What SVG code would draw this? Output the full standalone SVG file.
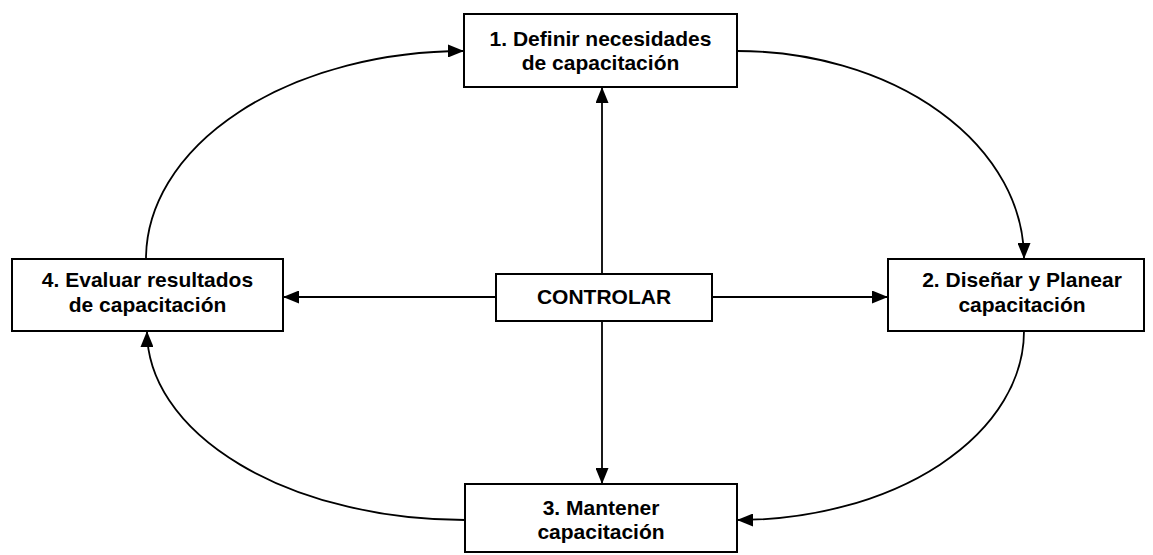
<svg xmlns="http://www.w3.org/2000/svg" width="1153" height="555" viewBox="0 0 1153 555">
  <style>
    .box { fill: #ffffff; stroke: #000000; stroke-width: 2; }
    .lbl { font-family: "Liberation Sans", Arial, sans-serif; font-weight: bold; font-size: 21px; fill: #000000; text-anchor: middle; }
    .link { fill: none; stroke: #000000; stroke-width: 1.8; marker-end: url(#arrow); }
  </style>
  <defs>
    <marker id="arrow" markerUnits="userSpaceOnUse" markerWidth="17" markerHeight="13" refX="16" refY="6.5" orient="auto">
      <path d="M0,0 L16,6.5 L0,13 z" fill="#000000"/>
    </marker>
  </defs>
  <rect width="1153" height="555" fill="#ffffff"/>

  <g id="connectors">
    <!-- cycle arcs -->
    <path class="link" d="M146,259 A318,208 0 0 1 464,51"/>
    <path class="link" d="M737,51 A287,208 0 0 1 1024,259"/>
    <path class="link" d="M1024,331 A287,189 0 0 1 737,520"/>
    <path class="link" d="M465,520 A318,189 0 0 1 147,331"/>
    <!-- control spokes -->
    <path class="link" d="M602,274 L602,87"/>
    <path class="link" d="M602,321 L602,484"/>
    <path class="link" d="M496,297 L283,297"/>
    <path class="link" d="M712,297 L888,297"/>
  </g>

  <g id="node-definir">
    <rect class="box" x="464" y="14" width="273" height="73"/>
    <text class="lbl" x="600.5" y="46">1. Definir necesidades</text>
    <text class="lbl" x="600.5" y="70">de capacitación</text>
  </g>

  <g id="node-disenar">
    <rect class="box" x="888" y="259" width="256" height="72"/>
    <text class="lbl" x="1022" y="287">2. Diseñar y Planear</text>
    <text class="lbl" x="1022" y="312">capacitación</text>
  </g>

  <g id="node-mantener">
    <rect class="box" x="465" y="484" width="272" height="68"/>
    <text class="lbl" x="601" y="515">3. Mantener</text>
    <text class="lbl" x="601" y="539">capacitación</text>
  </g>

  <g id="node-evaluar">
    <rect class="box" x="12" y="259" width="271" height="72"/>
    <text class="lbl" x="147.5" y="287">4. Evaluar resultados</text>
    <text class="lbl" x="147.5" y="312">de capacitación</text>
  </g>

  <g id="node-controlar">
    <rect class="box" x="496" y="274" width="216" height="47"/>
    <text class="lbl" x="604" y="304">CONTROLAR</text>
  </g>
</svg>
